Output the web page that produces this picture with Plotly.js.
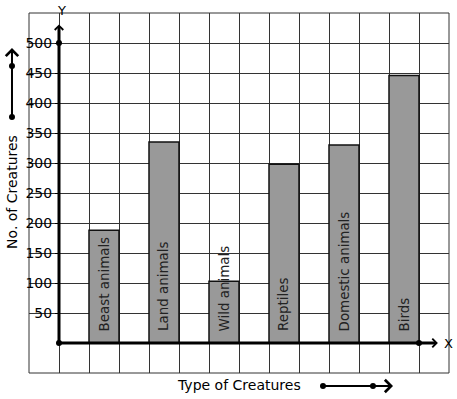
<!DOCTYPE html>
<html>
<head>
<meta charset="utf-8">
<script src="https://cdn.plot.ly/plotly-3.0.1.min.js"></script>
<style>html,body{margin:0;padding:0;background:#fff}#chart{width:457px;height:399px}</style>
</head>
<body>
<div id="chart"></div>
<script>
const categories = ["Beast animals", "Land animals", "Wild animals", "Reptiles", "Domestic animals", "Birds"];
const values = [188, 335, 103, 298, 330, 446];
const yTickValues = [50, 100, 150, 200, 250, 300, 350, 400, 450, 500];
const yTickLabels = ["50", "100", "150", "200", "250", "300", "350", "400", "450", "500"];
const xTitle = "Type of Creatures";
const yTitle = "No. of Creatures";

const FONT = "DejaVu Sans, Verdana, sans-serif";
const xPos = categories.map((c, i) => 1.5 + 2 * i);

const bars = {
  type: "bar",
  x: xPos,
  y: values,
  width: 1,
  marker: { color: "#999999", line: { color: "#111", width: 1.5 } },
  hoverinfo: "skip",
  showlegend: false
};

const dots = {
  type: "scatter",
  mode: "markers",
  x: [0, 0, 12],
  y: [0, 500, 0],
  marker: { color: "#000", size: 6 },
  cliponaxis: false,
  hoverinfo: "skip",
  showlegend: false
};

const annotations = [];
categories.forEach((c, i) => {
  annotations.push({
    x: xPos[i], y: 16, xref: "x", yref: "y",
    text: c, textangle: -90, showarrow: false,
    xanchor: "center", yanchor: "bottom",
    font: { family: FONT, size: 13.4, color: "#222" }
  });
});
// y axis arrow
annotations.push({ x: 0, y: 531, ax: 0, ay: 0, xref: "x", yref: "y", axref: "x", ayref: "y",
  text: "", showarrow: true, arrowhead: 4, arrowwidth: 3, arrowsize: 0.55, arrowcolor: "#000", standoff: 0, startstandoff: 0 });
// x axis arrow
annotations.push({ x: 12.63, y: 0, ax: 0, ay: 0, xref: "x", yref: "y", axref: "x", ayref: "y",
  text: "", showarrow: true, arrowhead: 4, arrowwidth: 3, arrowsize: 0.55, arrowcolor: "#000", standoff: 0, startstandoff: 0 });
annotations.push({ x: 0.0762, y: 1.008, xref: "paper", yref: "paper", text: "Y", showarrow: false,
  xanchor: "center", yanchor: "middle", font: { family: FONT, size: 13, color: "#000" } });
annotations.push({ x: 12.97, y: 0, xref: "x", yref: "y", text: "X", showarrow: false,
  xanchor: "center", yanchor: "middle", font: { family: FONT, size: 13, color: "#000" } });
// axis titles
annotations.push({ x: -0.0405, y: 0.503, xref: "paper", yref: "paper", text: yTitle, textangle: -90, showarrow: false,
  xanchor: "center", yanchor: "middle", font: { family: FONT, size: 14, color: "#000" } });
annotations.push({ x: 0.501, y: -0.0333, xref: "paper", yref: "paper", text: xTitle, showarrow: false,
  xanchor: "center", yanchor: "middle", font: { family: FONT, size: 14, color: "#000" } });
// decorative arrows near titles
annotations.push({ x: -0.0405, y: 0.9028, ax: -0.0405, ay: 0.7111, xref: "paper", yref: "paper", axref: "paper", ayref: "paper",
  text: "", showarrow: true, arrowhead: 4, arrowwidth: 2, arrowsize: 1.2, arrowcolor: "#000", standoff: 0, startstandoff: 0 });
annotations.push({ x: 0.8667, y: -0.0361, ax: 0.7, ay: -0.0361, xref: "paper", yref: "paper", axref: "paper", ayref: "paper",
  text: "", showarrow: true, arrowhead: 4, arrowwidth: 2, arrowsize: 1.2, arrowcolor: "#000", standoff: 0, startstandoff: 0 });

const decoDotPos = [[-0.0405, 0.7111], [-0.0405, 0.8528], [0.7, -0.0361], [0.819, -0.0361]];
const dotShapes = decoDotPos.map(p => ({
  type: "circle", xref: "paper", yref: "paper",
  xsizemode: "pixel", ysizemode: "pixel", xanchor: p[0], yanchor: p[1],
  x0: -3, x1: 3, y0: -3, y1: 3,
  fillcolor: "#000", line: { color: "#000", width: 0 }, layer: "above"
}));

const layout = {
  width: 457, height: 399,
  margin: { l: 29, r: 8, t: 13, b: 26, pad: 0 },
  paper_bgcolor: "#fff", plot_bgcolor: "#fff",
  font: { family: FONT, size: 13, color: "#000" },
  showlegend: false,
  xaxis: {
    range: [-1, 13], tick0: 0, dtick: 1,
    showgrid: true, gridcolor: "#333", gridwidth: 1,
    zeroline: false, showticklabels: false, ticks: "", showline: false, fixedrange: true
  },
  yaxis: {
    range: [-50, 550], tickvals: yTickValues, ticktext: yTickLabels,
    showgrid: true, gridcolor: "#333", gridwidth: 1,
    zeroline: false, showline: false,
    anchor: "free", position: 1 / 14,
    ticks: "outside", ticklen: 4, tickcolor: "#000", tickwidth: 1,
    tickfont: { family: FONT, size: 14, color: "#000" }, fixedrange: true
  },
  shapes: [
    { type: "rect", xref: "paper", yref: "paper", x0: 0, x1: 1, y0: 0, y1: 1,
      line: { color: "#333", width: 1 }, layer: "below" }
  ].concat(dotShapes),
  annotations: annotations
};

Plotly.newPlot("chart", [bars, dots], layout, { displayModeBar: false, staticPlot: true });
</script>
</body>
</html>
